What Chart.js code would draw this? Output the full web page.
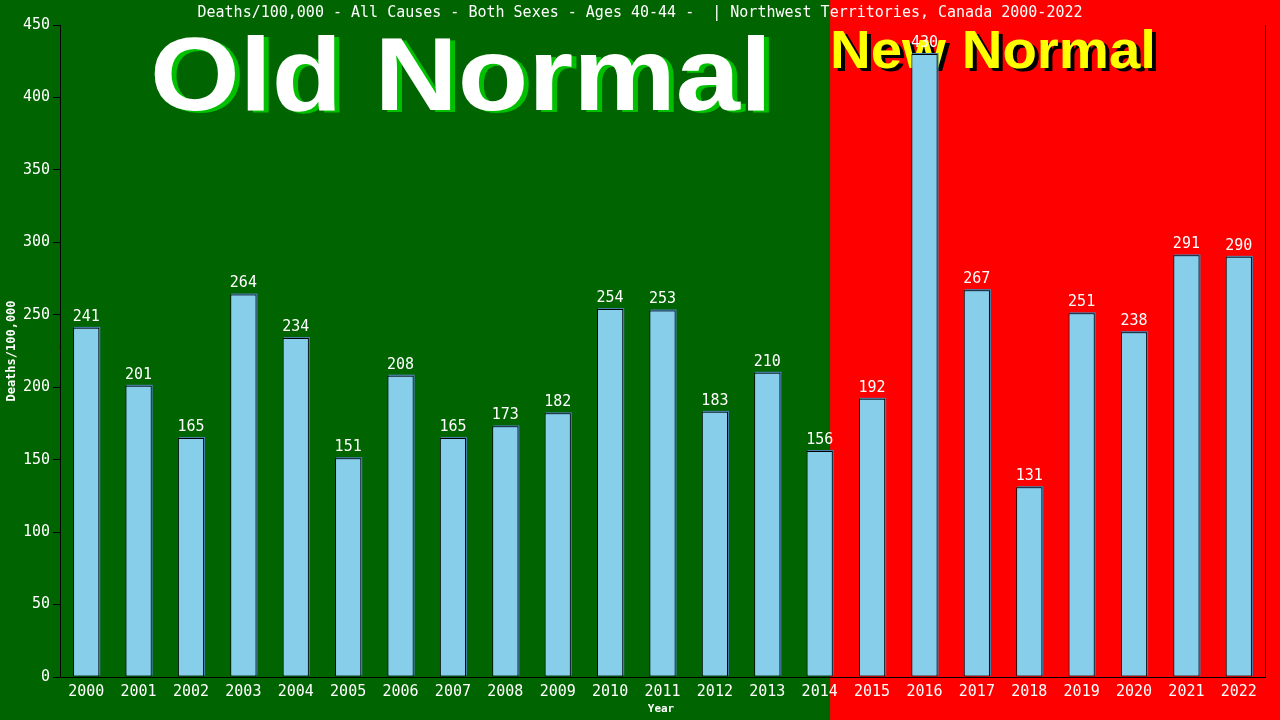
<!DOCTYPE html>
<html>
<head>
<meta charset="utf-8">
<script src="https://cdn.jsdelivr.net/npm/chart.js@4"></script>
<style>
  html, body { margin: 0; padding: 0; background: #006400; }
  canvas { display: block; }
</style>
</head>
<body>
<canvas id="chart" width="1280" height="720"></canvas>
<script>
// data
const years = ['2000','2001','2002','2003','2004','2005','2006','2007','2008','2009','2010','2011',
               '2012','2013','2014','2015','2016','2017','2018','2019','2020','2021','2022'];
const deathsPer100k = [241, 201, 165, 264, 234, 151, 208, 165, 173, 182, 254, 253,
                       183, 210, 156, 192, 430, 267, 131, 251, 238, 291, 290];
const yTicks = [0, 50, 100, 150, 200, 250, 300, 350, 400, 450];
const splitIndex = 14.2; // where the red "new normal" band starts
const titleText = 'Deaths/100,000 - All Causes - Both Sexes - Ages 40-44 -  | Northwest Territories, Canada 2000-2022';

const MONO = '"DejaVu Sans Mono", monospace';

function drawStretched(ctx, text, x, y, targetW, font, fill, shadow, dx, dy) {
  ctx.save();
  ctx.font = font;
  ctx.textBaseline = 'alphabetic';
  ctx.textAlign = 'left';
  const w = ctx.measureText(text).width;
  const sx = targetW / w;
  ctx.translate(x, y);
  ctx.scale(sx, 1);
  ctx.fillStyle = shadow;
  ctx.fillText(text, dx / sx, dy);
  ctx.fillStyle = fill;
  ctx.fillText(text, 0, 0);
  ctx.restore();
}

const backdrop = {
  id: 'backdrop',
  beforeDraw(chart) {
    const {ctx, width, height, scales: {x}} = chart;
    const split = x.getPixelForValue(splitIndex);
    ctx.save();
    ctx.fillStyle = '#006400';
    ctx.fillRect(0, 0, width, height);
    ctx.fillStyle = '#ff0000';
    ctx.fillRect(split, 0, width - split, height);
    ctx.restore();
  },
  beforeDatasetsDraw(chart) {
    const {ctx} = chart;
    drawStretched(ctx, 'Old Normal', 150, 110, 622, 'bold 104px "Liberation Sans"', '#ffffff', '#00c000', 5, 2);
    drawStretched(ctx, 'New Normal', 830, 68, 326, 'bold 53px "Liberation Sans"', '#ffff00', '#000000', 4, 3);
    // thin blue shadow behind each bar
    ctx.save();
    ctx.fillStyle = '#4a7fa8';
    chart.getDatasetMeta(0).data.forEach(bar => {
      const p = bar.getProps(['x', 'y', 'base', 'width'], true);
      ctx.fillRect(p.x - p.width / 2 + 1, p.y - 1, p.width, p.base - p.y);
    });
    ctx.restore();
  },
  afterDatasetsDraw(chart) {
    const {ctx, chartArea} = chart;
    ctx.save();
    ctx.font = '15px ' + MONO;
    ctx.fillStyle = '#ffffff';
    ctx.textAlign = 'center';
    ctx.textBaseline = 'alphabetic';
    chart.getDatasetMeta(0).data.forEach((bar, i) => {
      ctx.fillText(String(deathsPer100k[i]), bar.x, bar.y - 7);
    });
    // right frame line
    ctx.strokeStyle = '#000000';
    ctx.lineWidth = 1;
    ctx.beginPath();
    ctx.moveTo(Math.round(chartArea.right) + 0.5, chartArea.top);
    ctx.lineTo(Math.round(chartArea.right) + 0.5, chartArea.bottom);
    ctx.stroke();
    ctx.restore();
  },
  afterDraw(chart) {
    const {ctx} = chart;
    ctx.save();
    ctx.fillStyle = '#ffffff';
    ctx.textAlign = 'center';
    ctx.textBaseline = 'middle';
    ctx.font = '15px ' + MONO;
    ctx.fillText(titleText, 640, 13);
    ctx.font = 'bold 11px ' + MONO;
    ctx.fillText('Year', 661, 709);
    ctx.translate(12, 351);
    ctx.rotate(-Math.PI / 2);
    ctx.font = 'bold 12px ' + MONO;
    ctx.fillText('Deaths/100,000', 0, 0);
    ctx.restore();
  }
};

new Chart(document.getElementById('chart'), {
  type: 'bar',
  data: {
    labels: years,
    datasets: [{
      data: deathsPer100k,
      backgroundColor: '#87ceeb',
      borderColor: '#000000',
      borderWidth: 1,
      borderSkipped: false,
      barPercentage: 0.5,
      categoryPercentage: 1.0
    }]
  },
  options: {
    responsive: false,
    animation: false,
    devicePixelRatio: 1,
    layout: { padding: { top: 25, right: 15, left: 0, bottom: 0 } },
    plugins: {
      legend: { display: false },
      title: { display: false },
      tooltip: { enabled: false }
    },
    scales: {
      x: {
        offset: true,
        grid: { display: false },
        border: { display: true, color: '#000000', width: 1 },
        ticks: { color: '#ffffff', font: { family: MONO, size: 15 }, padding: -2, maxRotation: 0, autoSkip: false },
        afterFit(scale) { scale.height = 43; }
      },
      y: {
        min: 0,
        max: 450,
        afterBuildTicks(scale) { scale.ticks = yTicks.map(v => ({value: v})); },
        grid: { display: true, drawOnChartArea: false, color: '#000000', tickLength: 7 },
        border: { display: true, color: '#000000', width: 1 },
        ticks: { color: '#ffffff', font: { family: MONO, size: 15 }, padding: 3 },
        afterFit(scale) { scale.width = 60; }
      }
    }
  },
  plugins: [backdrop]
});
</script>
</body>
</html>
